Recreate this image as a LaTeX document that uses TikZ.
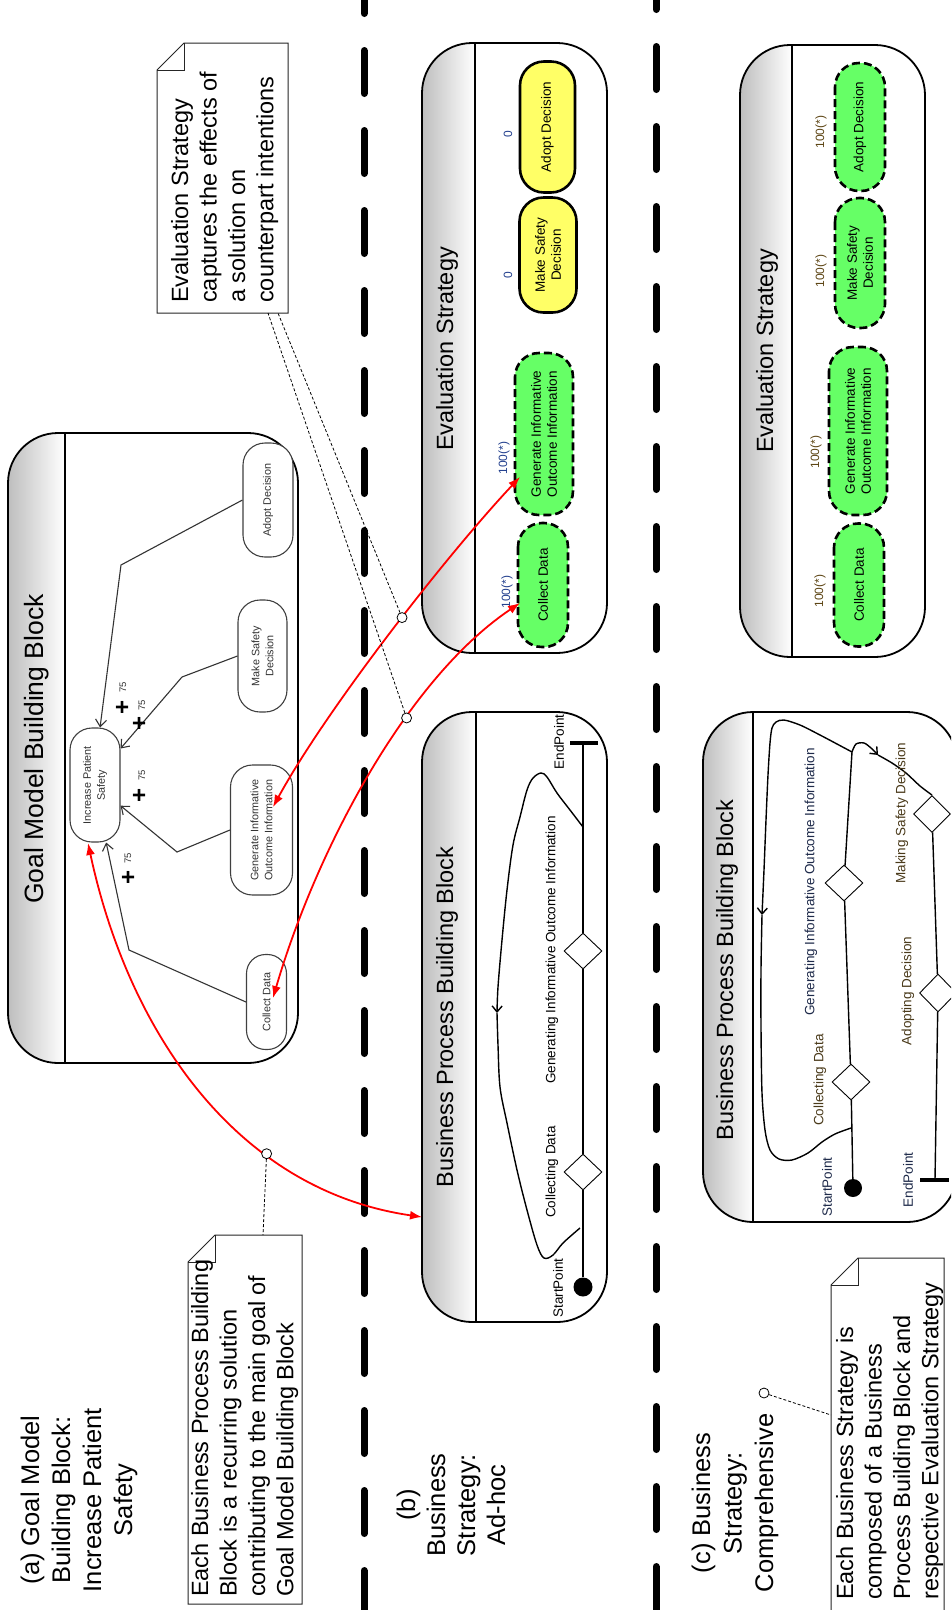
\documentclass[tikz,border=0pt]{standalone}
\usepackage{fontspec}
\setmainfont{Liberation Sans}
\usetikzlibrary{arrows.meta,calc,shapes.geometric}

\definecolor{goalgreen}{HTML}{66FF66}
\definecolor{goalyellow}{HTML}{FFFF66}
\definecolor{hdrgray}{HTML}{BEBEBE}
\definecolor{valblue}{HTML}{23408E}
\definecolor{valbrown}{HTML}{5C4413}
\definecolor{lblbrown}{HTML}{4A3A1A}
\definecolor{lblnavy}{HTML}{1E2A4A}

\newcommand{\myfs}[2]{\fontsize{#1}{#2}\selectfont}

% name, left, top, right, bottom, header line x
\newcommand{\hdrbox}[6]{%
  \node[boxnode, minimum width={#4-#2}, minimum height={#5-#3}] (#1) at ({(#2+#4)/2},{(#3+#5)/2}) {};
  \begin{scope}
    \clip[rounded corners=50pt] (#1.north west) rectangle (#1.south east);
    \shade[left color=hdrgray, right color=white] (#2,#3) rectangle (#6,#5);
  \end{scope}
  \draw[boxline, rounded corners=50pt] (#1.north west) rectangle (#1.south east);
  \draw[boxline] (#6,#3) -- (#6,#5);
}

\begin{document}
\begin{tikzpicture}[x=1pt,y=-1pt,
  boxline/.style={line width=1.8pt, draw=black},
  boxnode/.style={rectangle, rounded corners=50pt, inner sep=0pt, outer sep=0pt, fill=white},
  hdrtitle/.style={rotate=90, inner sep=0pt, font=\myfs{23.5}{28}},
  goalnode/.style={rectangle, rounded corners=22pt, draw=black!75, line width=1.1pt, fill=white, rotate=90, align=center, inner sep=0pt, font=\myfs{10.8}{14}, text=black!80},
  evalg/.style={rectangle, rounded corners=24pt, draw=black, line width=2.6pt, dash pattern=on 8pt off 4pt, fill=goalgreen, rotate=90, align=center, inner sep=0pt, font=\myfs{13.5}{16}},
  evaly/.style={rectangle, rounded corners=24pt, draw=black, line width=2.6pt, fill=goalyellow, rotate=90, align=center, inner sep=0pt, font=\myfs{13.5}{16}},
  contrib/.style={draw=black!80, line width=1.1pt, -{Straight Barb[length=7pt,width=11pt]}},
  plusmark/.style={rotate=90, inner sep=0pt, font=\myfs{24}{24}\bfseries},
  wt/.style={rotate=90, inner sep=0pt, font=\myfs{9.5}{10}, text=black!80},
  val/.style={rotate=90, inner sep=0pt, font=\myfs{12}{13}},
  ucm/.style={line width=1.4pt, draw=black},
  ucmtip/.style={ucm, -{Straight Barb[length=6pt,width=10pt]}},
  endbar/.style={line width=3.5pt, draw=black},
  startpt/.style={circle, fill=black, inner sep=0pt, minimum size=19pt},
  stub/.style={diamond, draw=black, line width=0.9pt, fill=white, inner sep=0pt, minimum width=38pt, minimum height=36pt},
  ucmlabel/.style={rotate=90, inner sep=0pt, font=\myfs{13.5}{15}},
  redarrow/.style={draw=red, line width=1.8pt, {Latex[length=12pt,width=9pt]}-{Latex[length=12pt,width=9pt]}},
  anchorcirc/.style={circle, draw=black, line width=0.8pt, fill=white, inner sep=0pt, minimum size=10pt},
  notelink/.style={draw=black, line width=0.8pt, dash pattern=on 3pt off 2pt},
  notebody/.style={draw=black!85, line width=1pt, fill=white},
  notetext/.style={rotate=90, anchor=north west, align=left, inner sep=0pt, font=\myfs{23.5}{28.4}},
  sep/.style={line width=7pt, line cap=round, dash pattern=on 43pt off 37pt},
  titletext/.style={rotate=90, align=center, inner sep=0pt}
]
\useasboundingbox (0,0) rectangle (951,1610);
\clip (0,0) rectangle (951,1610);

% ---------- separators ----------
\draw[sep] (364,-29.5) -- (364,1640);
\draw[sep] (656,-33.5) -- (656,1640);

% ---------- boxes ----------
\hdrbox{gm}{8}{433}{298}{1063}{65}
\node[hdrtitle, font=\myfs{26.5}{30}] (gmt) at (37,749) {Goal Model Building Block};

\hdrbox{bpA}{422}{712}{607}{1322}{476}
\node[hdrtitle] (bpAt) at (447,1017) {Business Process Building Block};

\hdrbox{evB}{422}{43}{607}{653}{475}
\node[hdrtitle] (evBt) at (447,349) {Evaluation Strategy};

\hdrbox{bpC}{703}{712}{957}{1222}{753}
\node[hdrtitle] (bpCt) at (727,970) {Business Process Building Block};

\hdrbox{evC}{740}{45}{925}{657}{792}
\node[hdrtitle] (evCt) at (767,351) {Evaluation Strategy};

% ---------- goal model ----------
\node[goalnode, minimum width=114pt, minimum height=50pt] (ips) at (95,785) {Increase Patient\\Safety};
\node[goalnode, minimum width=114pt, minimum height=50pt] (adoptG) at (268,500) {Adopt Decision};
\node[goalnode, minimum width=112pt, minimum height=49pt] (makeG) at (262.5,656) {Make Safety\\Decision};
\node[goalnode, minimum width=130pt, minimum height=62pt] (genG) at (261.5,830) {Generate Informative\\Outcome Information};
\node[goalnode, rounded corners=19pt, minimum width=95pt, minimum height=40pt] (collectG) at (266.5,1002) {Collect Data};

\draw[contrib] (adoptG.north) -- (121,565) -- (ips.-5);
\draw[contrib] (makeG.north) -- (182,677) -- (ips.-35);
\draw[contrib] (genG.north) -- (177,852) -- (ips.-129);
\draw[contrib] (collectG.north) -- (129,950) -- (ips.-169);

\node[plusmark] (p1) at (123,707) {+};
\node[wt] (w1) at (123,687) {75};
\node[plusmark] (p2) at (140,723) {+};
\node[wt] (w2) at (142,705) {75};
\node[plusmark] (p3) at (140,795) {+};
\node[wt] (w3) at (142,775) {75};
\node[plusmark] (p4) at (129,877) {+};
\node[wt] (w4) at (128,858) {75};

% ---------- evaluation strategy (b) ----------
\node[evaly, minimum width=131pt, minimum height=55pt] (adoptB) at (547.5,127) {Adopt Decision};
\node[evaly, minimum width=115pt, minimum height=57pt] (makeB) at (548,255) {Make Safety\\Decision};
\node[evalg, minimum width=162pt, minimum height=58pt] (genB) at (544,434) {Generate Informative\\Outcome Information};
\node[evalg, minimum width=124pt, minimum height=50pt] (collectB) at (543,585) {Collect Data};
\node[val, text=valblue] (vAdoptB) at (508,134) {0};
\node[val, text=valblue] (vMakeB) at (508,275) {0};
\node[val, text=valblue] (vGenB) at (504,458) {100(*)};
\node[val, text=valblue] (vCollectB) at (507,592) {100(*)};

% ---------- evaluation strategy (c) ----------
\node[evalg, minimum width=128pt, minimum height=50pt] (adoptC) at (860,127) {Adopt Decision};
\node[evalg, minimum width=130pt, minimum height=50pt] (makeC) at (860,263) {Make Safety\\Decision};
\node[evalg, minimum width=168pt, minimum height=58pt] (genC) at (858,431) {Generate Informative\\Outcome Information};
\node[evalg, minimum width=123pt, minimum height=50pt] (collectC) at (859,585) {Collect Data};
\node[val, text=valbrown] (vAdoptC) at (821,132) {100(*)};
\node[val, text=valbrown] (vMakeC) at (821,271) {100(*)};
\node[val, text=valbrown] (vGenC) at (816,452) {100(*)};
\node[val, text=valbrown] (vCollectC) at (820,591) {100(*)};

% ---------- business process (b) ad-hoc ----------
\node[startpt] (sA) at (583,1287) {};
\node[stub] (dA1) at (583,1172) {};
\node[stub] (dA2) at (583,951) {};
\coordinate (eA) at (583,743);
\draw[ucm] (sA) -- (dA1);
\draw[ucm] (dA1) -- (dA2);
\draw[ucm] (dA2) -- (eA);
\draw[endbar] ($(eA)+(-13,0)$) -- ($(eA)+(15,0)$);
\draw[ucmtip] plot[smooth, tension=0.55] coordinates {(583,827) (570,810) (557,793) (547,777) (541,773) (533,778) (527,790) (520,817) (513,845) (507,890) (502,940) (498,987) (497,1013)};
\draw[ucm] plot[smooth, tension=0.55] coordinates {(497,1013) (498,1045) (500,1087) (507,1123) (517,1170) (527,1210) (537,1245) (544,1258) (553,1255) (563,1243) (580,1228)};

\node[ucmlabel] (lsA) at (558,1288) {StartPoint};
\node[ucmlabel] (lcA) at (552,1172) {Collecting Data};
\node[ucmlabel] (lgA) at (552,950) {Generating Informative Outcome Information};
\node[ucmlabel] (leA) at (559,742) {EndPoint};

% ---------- business process (c) comprehensive ----------
\node[startpt, minimum size=18pt] (sC) at (853,1188) {};
\node[stub] (dC1) at (851,1082) {};
\node[stub] (dC2) at (844,883) {};
\coordinate (jC) at (852,752);
\node[stub, minimum width=37pt, minimum height=37pt] (dC3) at (932,814) {};
\node[stub, minimum width=37pt, minimum height=38pt] (dC4) at (938,993) {};
\coordinate (eC) at (935,1180);
\draw[ucm] (sC) -- (dC1);
\draw[ucm] (dC1) -- (dC2);
\draw[ucm] (dC2) -- (jC);
\draw[ucmtip] plot[smooth] coordinates {(852,752) (856,744) (864,743) (871,748) (878,755)};
\draw[ucm] plot[smooth] coordinates {(878,755) (892,763) (906,773) (920,786) (dC3.north)};
\draw[ucm] (dC3) -- (dC4);
\draw[ucm] (dC4) -- (eC);
\draw[endbar] ($(eC)+(-15,0)$) -- ($(eC)+(14,0)$);
\draw[ucmtip] plot[smooth] coordinates {(852,752) (837,744) (820,735) (800,725) (784,720) (776,722) (772,728) (770,743) (768,775) (766,820) (764,870) (762,915)};
\draw[ucm] plot[smooth] coordinates {(762,915) (761,970) (761,1027) (762,1093) (765,1130) (770,1150) (779,1159) (792,1160) (808,1153) (822,1142) (835,1134) (851,1128)};

\node[ucmlabel, text=lblnavy] (lsC) at (827,1187) {StartPoint};
\node[ucmlabel, text=lblbrown] (lcC) at (820,1080) {Collecting Data};
\node[ucmlabel, text=lblnavy] (lgC) at (811,882) {Generating Informative Outcome Information};
\node[ucmlabel, text=lblbrown] (lmC) at (902,813) {Making Safety Decision};
\node[ucmlabel, text=lblbrown] (laC) at (908,991) {Adopting Decision};
\node[ucmlabel, text=lblnavy] (leC) at (908,1180) {EndPoint};

% ---------- titles ----------
\node[titletext, font=\myfs{25.5}{31}] (ta) at (79,1500) {(a) Goal Model\\Building Block:\\Increase Patient\\Safety};
\node[titletext, font=\myfs{25.5}{30}] (tb) at (451,1505) {(b)\\Business\\Strategy:\\Ad-hoc};
\node[titletext, font=\myfs{25.5}{31.5}] (tc) at (735,1503) {(c) Business\\Strategy:\\Comprehensive};

% ---------- notes ----------
\draw[notebody] (215,1235) -- (302,1235) -- (302,1604) -- (188,1604) -- (188,1262) -- cycle;
\draw[notebody, fill=none] (215,1235) -- (215,1262) -- (188,1262);
\node[notetext] (n1t) at (191,1597) {Each Business Process Building\\Block is a recurring solution\\contributing to the main goal of\\Goal Model Building Block};
\coordinate (n1a) at (263,1235);

\draw[notebody] (184,43) -- (288,43) -- (288,313) -- (157,313) -- (157,70) -- cycle;
\draw[notebody, fill=none] (184,43) -- (184,70) -- (157,70);
\node[notetext] (n2t) at (171,303) {Evaluation Strategy\\captures the effects of\\a solution on\\counterpart intentions};
\coordinate (n2a) at (278,313);
\coordinate (n2b) at (268,313);

\draw[notebody] (858,1258) -- (944,1258) -- (944,1625) -- (831,1625) -- (831,1285) -- cycle;
\draw[notebody, fill=none] (858,1258) -- (858,1285) -- (831,1285);
\node[notetext] (n3t) at (836,1600) {Each Business Strategy is\\composed of a Business\\Process Building Block and\\respective Evaluation Strategy};
\coordinate (n3a) at (831,1415);

% ---------- red traceability arrows ----------
\draw[redarrow] ($(genB)+(-24,43)$) .. controls (445,557) and (326,710) .. ($(genG)+(11.5,-23)$) node[anchorcirc, pos=0.45] (c2) {};
\draw[redarrow] ($(collectB)+(-23,18)$) .. controls (405,680) and (315,854) .. ($(collectG)+(6.5,-4)$) node[anchorcirc, pos=0.36] (c3) {};
\draw[redarrow] ($(ips)+(-7,58)$) .. controls (128,1030) and (235,1190) .. ($(bpA.west)+(0,200)$) node[anchorcirc, pos=0.68] (c1) {};

\node[anchorcirc] (c4) at (764,1393) {};

% ---------- note links ----------
\draw[notelink] (c1) -- (n1a);
\draw[notelink] (c2) -- (n2a);
\draw[notelink] (c3) -- (n2b);
\draw[notelink] (c4) -- (n3a);

\end{tikzpicture}
\end{document}
